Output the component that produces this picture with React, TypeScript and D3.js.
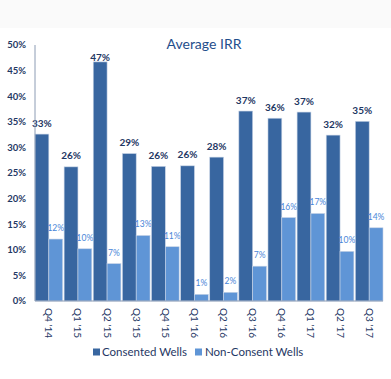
import React from "react";
import * as d3 from "d3";

const categories = ["Q4 '14", "Q1 '15", "Q2 '15", "Q3 '15", "Q4 '15", "Q1 '16", "Q2 '16", "Q3 '16", "Q4 '16", "Q1 '17", "Q2 '17", "Q3 '17"];
const consented = [32.6, 26.2, 46.7, 28.8, 26.3, 26.4, 28.1, 37.1, 35.7, 36.9, 32.4, 35.1];
const consentedLabels = ["33%", "26%", "47%", "29%", "26%", "26%", "28%", "37%", "36%", "37%", "32%", "35%"];
const nonConsent = [12.1, 10.2, 7.3, 12.8, 10.6, 1.3, 1.7, 6.8, 16.3, 17.1, 9.7, 14.3];
const nonConsentLabels = ["12%", "10%", "7%", "13%", "11%", "1%", "2%", "7%", "16%", "17%", "10%", "14%"];
const yTicks = [0, 5, 10, 15, 20, 25, 30, 35, 40, 45, 50];
const seriesNames = ["Consented Wells", "Non-Consent Wells"];

const W = 391;
const H = 379;
const DARK = "#3866a0";
const LIGHT = "#5f95d6";
const TEXT = "#1f3864";
const AXIS = "#8c9cb4";
const FONT = "Lato, 'Open Sans', sans-serif";

export default function App() {
  const x = d3.scaleBand<string>().domain(categories).range([35, 383]).paddingInner(0.05).paddingOuter(0);
  const inner = d3.scaleBand<string>().domain(["c", "n"]).range([0, x.bandwidth()]);
  const y = d3.scaleLinear().domain([0, 50]).range([301, 45]);

  return (
    <svg width={W} height={H} style={{ position: "absolute", left: 0, top: 0, background: "#fff" }} fontFamily={FONT}>
      <rect x={0} y={0} width={W} height={28} fill="#fafafa" />
      <text x={204} y={49} textAnchor="middle" fontSize={14} fill="#1f4e8c">Average IRR</text>

      {yTicks.map((t) => (
        <text key={t} x={26} y={y(t)} dy="0.35em" textAnchor="end" fontSize={9.5} fontWeight="bold" fill={TEXT}>
          {t}%
        </text>
      ))}

      {categories.map((c, i) => {
        const x0 = x(c)!;
        const xc = x0 + inner("c")!;
        const xn = x0 + inner("n")!;
        const bw = inner.bandwidth();
        const yc = y(consented[i]);
        const yn = y(nonConsent[i]);
        return (
          <g key={c}>
            <rect x={xc} y={yc} width={bw} height={y(0) - yc} fill={DARK} stroke="#c8d4e6" strokeWidth={0.6} />
            <rect x={xn} y={yn} width={bw} height={y(0) - yn} fill={LIGHT} stroke="#c8d4e6" strokeWidth={0.6} />
            <text x={xc + bw / 2} y={Math.max(yc - 7.5, 61)} textAnchor="middle" fontSize={10} fontWeight="bold" fill={TEXT}>
              {consentedLabels[i]}
            </text>
            <text x={xn + bw / 2} y={yn - 8} textAnchor="middle" fontSize={8.5} fill="#4a86d8">
              {nonConsentLabels[i]}
            </text>
            <text
              transform={`translate(${x0 + x.bandwidth() / 2},308) rotate(90)`}
              dy="0.35em"
              textAnchor="start"
              fontSize={10}
              fill={TEXT}
            >
              {c}
            </text>
          </g>
        );
      })}

      <line x1={35} x2={35} y1={45} y2={301} stroke={AXIS} strokeWidth={1} />
      <line x1={35} x2={383} y1={301} y2={301} stroke={AXIS} strokeWidth={1} />

      <rect x={93} y={348.5} width={7} height={7} fill={DARK} />
      <text x={102} y={355.5} fontSize={11.5} fill={TEXT}>{seriesNames[0]}</text>
      <rect x={195} y={348.5} width={7} height={7} fill={LIGHT} />
      <text x={205} y={355.5} fontSize={11.5} fill={TEXT}>{seriesNames[1]}</text>
    </svg>
  );
}
